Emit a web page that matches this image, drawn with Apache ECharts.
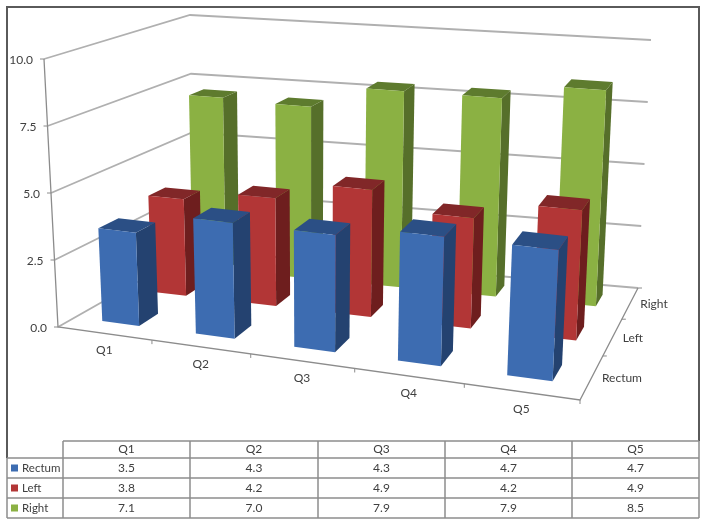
<!DOCTYPE html>
<html>
<head>
<meta charset="utf-8">
<style>html,body{margin:0;padding:0;background:#fff}#chart{width:706px;height:526px}</style>
<script src="https://cdn.jsdelivr.net/npm/echarts@6/dist/echarts.min.js"></script>
</head>
<body>
<div id="chart"></div>
<script>
var categories = ['Q1', 'Q2', 'Q3', 'Q4', 'Q5'];
var rowNames = ['Rectum', 'Left', 'Right'];
var rectum = [3.5, 4.3, 4.3, 4.7, 4.7];
var left = [3.8, 4.2, 4.9, 4.2, 4.9];
var right = [7.1, 7.0, 7.9, 7.9, 8.5];
var yTicks = [0, 2.5, 5, 7.5, 10];
var yTickLabels = ['0.0', '2.5', '5.0', '7.5', '10.0'];

var rows = [rectum, left, right];
var rowColors = ['#3d6cb1', '#b23636', '#8bb143'];
var sideColors = ['#244270', '#6e1e1e', '#566f2a'];
var topColors = ['#2b4f85', '#812728', '#5e7b2e'];
var textColor = '#404040';
var fontName = 'Lato';

// floor corners on screen and the up vector (for value 10) at each of them
var floorA = [58, 327], floorB = [580, 400], floorC = [638, 288], floorD = [194, 250];
var upA = [-14, -268], upB = [15, -285], upC = [13, -248], upD = [-4, -235];

function mix(p, q, t) {
    return [p[0] + (q[0] - p[0]) * t, p[1] + (q[1] - p[1]) * t];
}
function warp(t, a) {
    return t / (t + a * (1 - t));
}
// u along categories, v along rows, z along the value axis, all 0..1
function project(u, v, z) {
    var uu = warp(u, 1.139), vv = warp(v, 0.772);
    var p = mix(mix(floorA, floorB, uu), mix(floorD, floorC, uu), vv);
    var up = mix(mix(upA, upB, uu), mix(upD, upC, uu), vv);
    return [p[0] + up[0] * z, p[1] + up[1] * z];
}

// a hidden 100x100 grid gives the scales, its pixels are read back as 0..1
var box = 100;
function unit(api, i, val) {
    var c = api.coord([i, val]);
    return [c[0] / box, 1 - c[1] / box];
}

function barSeries(r) {
    var data = rows[r].map(function (v, i) { return [i, v]; });
    return {
        type: 'custom',
        name: rowNames[r],
        coordinateSystem: 'cartesian2d',
        z: 10 + (rows.length - r),
        data: data,
        renderItem: function (params, api) {
            var base = unit(api, api.value(0), 0);
            var top = unit(api, api.value(0), api.value(1));
            var hw = api.size([1, 0])[0] / box * 0.2;
            var v0 = (r + 0.3) / rows.length, v1 = (r + 0.68) / rows.length;
            var u0 = base[0] - hw, u1 = base[0] + hw, z = top[1];
            var f0 = project(u0, v0, 0), f1 = project(u1, v0, 0), f2 = project(u1, v1, 0);
            var t0 = project(u0, v0, z), t1 = project(u1, v0, z), t2 = project(u1, v1, z), t3 = project(u0, v1, z);
            return {
                type: 'group',
                children: [
                    { type: 'polygon', shape: { points: [f1, f2, t2, t1] }, style: { fill: sideColors[r] } },
                    { type: 'polygon', shape: { points: [t0, t1, t2, t3] }, style: { fill: topColors[r] } },
                    { type: 'polygon', shape: { points: [f0, f1, t1, t0] }, style: { fill: rowColors[r] } }
                ]
            };
        }
    };
}

var gridSeries = {
    type: 'custom',
    coordinateSystem: 'cartesian2d',
    z: 2,
    data: yTicks.map(function (t, i) { return [0, t, i]; }),
    renderItem: function (params, api) {
        var z = unit(api, 0, api.value(1))[1];
        var a = project(0, 0, z), d = project(0, 1, z), c = project(1, 1, z);
        return {
            type: 'group',
            children: [
                { type: 'polyline', shape: { points: [a, d, c] }, style: { fill: 'none', stroke: '#b0b0b0', lineWidth: 1.8 } },
                { type: 'line', shape: { x1: a[0] - 4, y1: a[1], x2: a[0], y2: a[1] }, style: { stroke: '#8c8c8c', lineWidth: 1 } },
                { type: 'text', style: { x: a[0] - 11, y: a[1] + 1, text: yTickLabels[api.value(2)], align: 'right', verticalAlign: 'middle', fill: textColor, font: '12px ' + fontName } }
            ]
        };
    }
};

var axisSeries = {
    type: 'custom',
    coordinateSystem: 'cartesian2d',
    z: 3,
    data: [[0, 0]],
    renderItem: function () {
        var style = { fill: 'none', stroke: '#8c8c8c', lineWidth: 1.3 };
        return {
            type: 'group',
            children: [
                { type: 'polyline', shape: { points: [project(0, 0, 1), project(0, 0, 0), project(1, 0, 0), project(1, 1, 0)] }, style: style }
            ]
        };
    }
};

var xLabelSeries = {
    type: 'custom',
    coordinateSystem: 'cartesian2d',
    z: 3,
    data: categories.map(function (c, i) { return [i, 0]; }),
    renderItem: function (params, api) {
        var i = api.value(0);
        var u = unit(api, i, 0)[0];
        var mid = project(u, 0, 0);
        var edge = project((i + 1) / categories.length, 0, 0);
        return {
            type: 'group',
            children: [
                { type: 'line', shape: { x1: edge[0], y1: edge[1], x2: edge[0], y2: edge[1] + 4 }, style: { stroke: '#8c8c8c', lineWidth: 1 } },
                { type: 'text', style: { x: mid[0], y: mid[1] + 17, text: categories[i], align: 'center', verticalAlign: 'middle', fill: textColor, font: '12px ' + fontName } }
            ]
        };
    }
};

var rowLabelSeries = {
    type: 'custom',
    coordinateSystem: 'cartesian2d',
    z: 3,
    data: rowNames.map(function (c, i) { return [0, i]; }),
    renderItem: function (params, api) {
        var r = api.value(1);
        var mid = project(1, (r + 0.5) / rowNames.length, 0);
        var edge = project(1, (r + 1) / rowNames.length, 0);
        return {
            type: 'group',
            children: [
                { type: 'line', shape: { x1: edge[0], y1: edge[1], x2: edge[0] + 4, y2: edge[1] }, style: { stroke: '#8c8c8c', lineWidth: 1 } },
                { type: 'text', style: { x: mid[0] + 10, y: mid[1] + 1, text: rowNames[r], align: 'left', verticalAlign: 'middle', fill: textColor, font: '12px ' + fontName } }
            ]
        };
    }
};

// data table under the chart
var colX = [63, 190, 318, 445, 572, 699];
var rowY = [441, 458, 478, 498, 518];
var tableLine = { stroke: '#8c8c8c', lineWidth: 1.5 };
var graphics = [
    { type: 'polyline', shape: { points: [[7, 458], [7, 7], [699, 7], [699, 441]] }, style: { fill: 'none', stroke: '#5a5a5a', lineWidth: 2 } }
];
function hLine(x1, x2, y) {
    graphics.push({ type: 'line', shape: { x1: x1, y1: y, x2: x2, y2: y }, style: tableLine });
}
function vLine(x, y1, y2) {
    graphics.push({ type: 'line', shape: { x1: x, y1: y1, x2: x, y2: y2 }, style: tableLine });
}
function cellText(x, y, s, align, size) {
    graphics.push({ type: 'text', style: { x: x, y: y, text: s, align: align, verticalAlign: 'middle', fill: textColor, font: size + 'px ' + fontName } });
}
hLine(63, 699, rowY[0]);
rowY.slice(1).forEach(function (y) { hLine(7, 699, y); });
colX.forEach(function (x, i) { vLine(x, rowY[0], rowY[4]); });
vLine(7, rowY[1], rowY[4]);
categories.forEach(function (c, i) {
    cellText((colX[i] + colX[i + 1]) / 2, (rowY[0] + rowY[1]) / 2, c, 'center', 12);
});
rowNames.forEach(function (name, r) {
    var cy = (rowY[r + 1] + rowY[r + 2]) / 2;
    graphics.push({ type: 'rect', shape: { x: 11, y: cy - 3.5, width: 7, height: 7 }, style: { fill: rowColors[r] } });
    cellText(22, cy, name, 'left', 11.5);
    rows[r].forEach(function (v, i) {
        cellText((colX[i] + colX[i + 1]) / 2, cy, v.toFixed(1), 'center', 12);
    });
});

var chart = echarts.init(document.getElementById('chart'));
chart.setOption({
    animation: false,
    backgroundColor: '#fff',
    grid: { left: 0, top: 0, width: box, height: box },
    xAxis: { type: 'category', data: categories, show: false },
    yAxis: { type: 'value', min: 0, max: 10, interval: 2.5, show: false },
    graphic: { elements: graphics },
    series: [gridSeries, axisSeries, xLabelSeries, rowLabelSeries].concat([2, 1, 0].map(barSeries))
});
</script>
</body>
</html>
